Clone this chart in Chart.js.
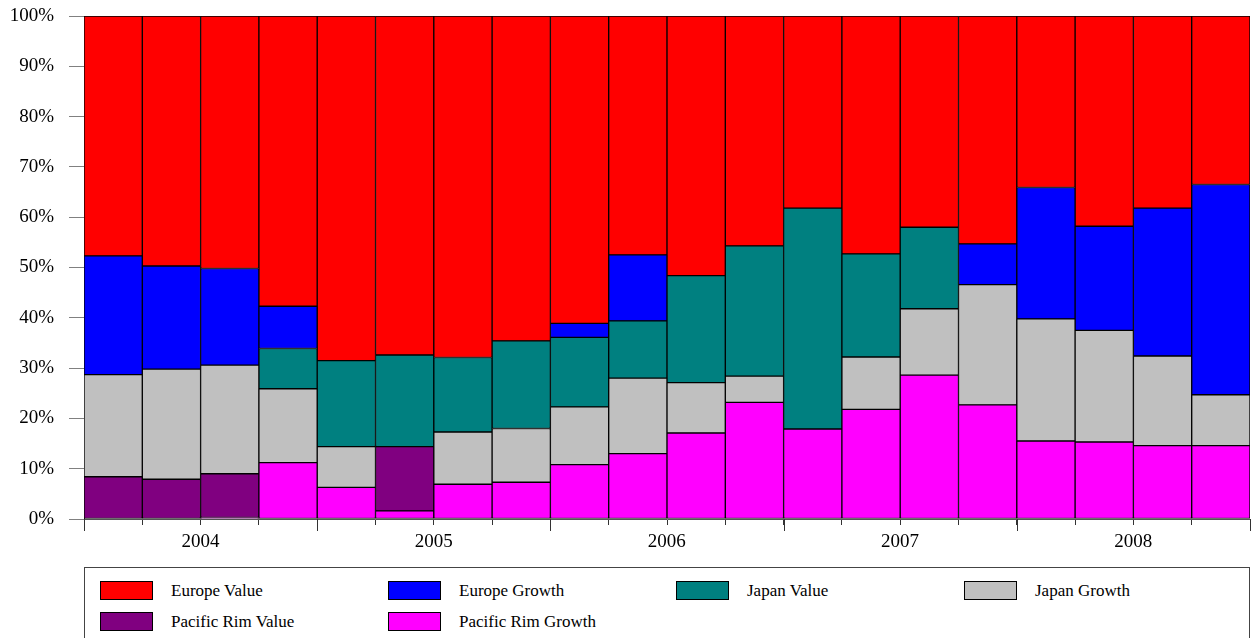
<!DOCTYPE html>
<html>
<head>
<meta charset="utf-8">
<script src="https://cdn.jsdelivr.net/npm/chart.js@4/dist/chart.umd.min.js"></script>
<style>
  body { margin:0; background:#fff; font-family:"Liberation Serif", serif; }
  #wrap { position:relative; width:1259px; height:638px; overflow:hidden; }
  #legend { position:absolute; left:84px; top:567px; width:1164px; height:90px; border:1px solid #444; }
  #legend .grid { display:grid; grid-template-columns:repeat(4, 288px); row-gap:12px; padding:13px 0 0 15px; }
  #legend .item { display:flex; align-items:center; height:19px; font-size:17px; color:#000; }
  #legend .sw { width:51px; height:17px; border:1px solid #000; margin-right:18px; flex:none; }
</style>
</head>
<body>
<div id="wrap">
  <canvas id="chart" width="1259" height="560"></canvas>
  <div id="legend"><div class="grid" id="legend-grid"></div></div>
</div>
<script>
const quarters = ['2004 Q1','2004 Q2','2004 Q3','2004 Q4','2005 Q1','2005 Q2','2005 Q3','2005 Q4',
                  '2006 Q1','2006 Q2','2006 Q3','2006 Q4','2007 Q1','2007 Q2','2007 Q3','2007 Q4',
                  '2008 Q1','2008 Q2','2008 Q3','2008 Q4'];
const years = ['2004','2005','2006','2007','2008'];
const yTicks = [0,10,20,30,40,50,60,70,80,90,100];

// % share, bottom of stack first
const pacificRimGrowth = [0, 0, 0.3, 11.2, 6.3, 1.6, 6.9, 7.3, 10.8, 13.0, 17.1, 23.2, 17.9, 21.8, 28.6, 22.7, 15.5, 15.3, 14.6, 14.6];
const pacificRimValue  = [8.4, 7.9, 8.7, 0, 0, 12.8, 0, 0, 0, 0, 0, 0, 0, 0, 0, 0, 0, 0, 0, 0];
const japanGrowth      = [20.3, 21.9, 21.6, 14.7, 8.1, 0, 10.4, 10.7, 11.5, 15.0, 10.0, 5.2, 0, 10.4, 13.2, 23.9, 24.3, 22.2, 17.8, 10.1];
const japanValue       = [0, 0, 0, 8.0, 17.1, 18.2, 14.8, 17.4, 13.8, 11.4, 21.3, 25.9, 43.9, 20.5, 16.2, 0, 0, 0, 0, 0];
const europeGrowth     = [23.6, 20.5, 19.2, 8.4, 0, 0, 0, 0, 2.8, 13.1, 0, 0, 0, 0, 0, 8.1, 26.1, 20.7, 29.4, 41.8];
const europeValue      = [47.7, 49.7, 50.2, 57.7, 68.5, 67.4, 67.9, 64.6, 61.1, 47.5, 51.6, 45.7, 38.2, 47.3, 42.0, 45.3, 34.1, 41.8, 38.2, 33.5];

const FONT = '"Liberation Serif", "Times New Roman", serif';

function ds(label, data, color) {
  return { label, data, backgroundColor: color, borderColor: '#000', borderWidth: 1, borderSkipped: false,
           barPercentage: 1, categoryPercentage: 1 };
}

// long ticks at the year boundaries
const yearTicks = {
  id: 'yearTicks',
  afterDraw(chart) {
    const x = chart.scales.x, ctx = chart.ctx, bottom = chart.chartArea.bottom;
    const half = (x.getPixelForValue(1) - x.getPixelForValue(0)) / 2;
    ctx.save();
    ctx.strokeStyle = '#333';
    ctx.lineWidth = 1;
    for (let i = 0; i <= quarters.length; i += 4) {
      const px = i < quarters.length ? x.getPixelForValue(i) - half : x.getPixelForValue(i - 1) + half;
      ctx.beginPath();
      ctx.moveTo(Math.round(px) + 0.5, bottom);
      ctx.lineTo(Math.round(px) + 0.5, bottom + 12);
      ctx.stroke();
    }
    ctx.restore();
  }
};

function draw() {
  Chart.defaults.font.family = FONT;
  const chart = new Chart(document.getElementById('chart'), {
    type: 'bar',
    data: {
      labels: quarters,
      datasets: [
        ds('Pacific Rim Growth', pacificRimGrowth, '#FF00FF'),
        ds('Pacific Rim Value', pacificRimValue, '#800080'),
        ds('Japan Growth', japanGrowth, '#C0C0C0'),
        ds('Japan Value', japanValue, '#008080'),
        ds('Europe Growth', europeGrowth, '#0000FF'),
        ds('Europe Value', europeValue, '#FF0000')
      ]
    },
    options: {
      responsive: false,
      animation: false,
      layout: { padding: { top: 16, right: 9, left: 0, bottom: 0 } },
      plugins: { legend: { display: false }, tooltip: { enabled: false } },
      scales: {
        x: {
          stacked: true,
          afterFit: s => { s.height = 41; },
          grid: { display: true, drawOnChartArea: false, offset: true, tickLength: 6, tickColor: '#333' },
          border: { display: true, color: '#555' },
          ticks: {
            autoSkip: false, maxRotation: 0, padding: 6, labelOffset: 29,
            color: '#000', font: { family: FONT, size: 19 },
            callback: (v, i) => i % 4 === 1 ? years[(i - 1) / 4] : ''
          }
        },
        y: {
          stacked: true, min: 0, max: 100,
          afterFit: s => { s.width = 84; s.paddingTop = 0; s.paddingBottom = 0; },
          afterBuildTicks: s => { s.ticks = yTicks.map(v => ({ value: v })); },
          grid: { display: true, drawOnChartArea: false, tickLength: 15, tickColor: '#808080' },
          border: { display: true, color: '#222' },
          ticks: { padding: 15, color: '#000', font: { family: FONT, size: 19 }, callback: v => v + '%' }
        }
      }
    },
    plugins: [yearTicks]
  });

  // legend, same order as the original (top of the stack first)
  const grid = document.getElementById('legend-grid');
  chart.data.datasets.slice().reverse().forEach(d => {
    const it = document.createElement('div');
    it.className = 'item';
    it.innerHTML = `<span class="sw" style="background:${d.backgroundColor}"></span><span>${d.label}</span>`;
    grid.appendChild(it);
  });
}

document.fonts.load('19px "Liberation Serif"').then(draw, draw);
</script>
</body>
</html>
